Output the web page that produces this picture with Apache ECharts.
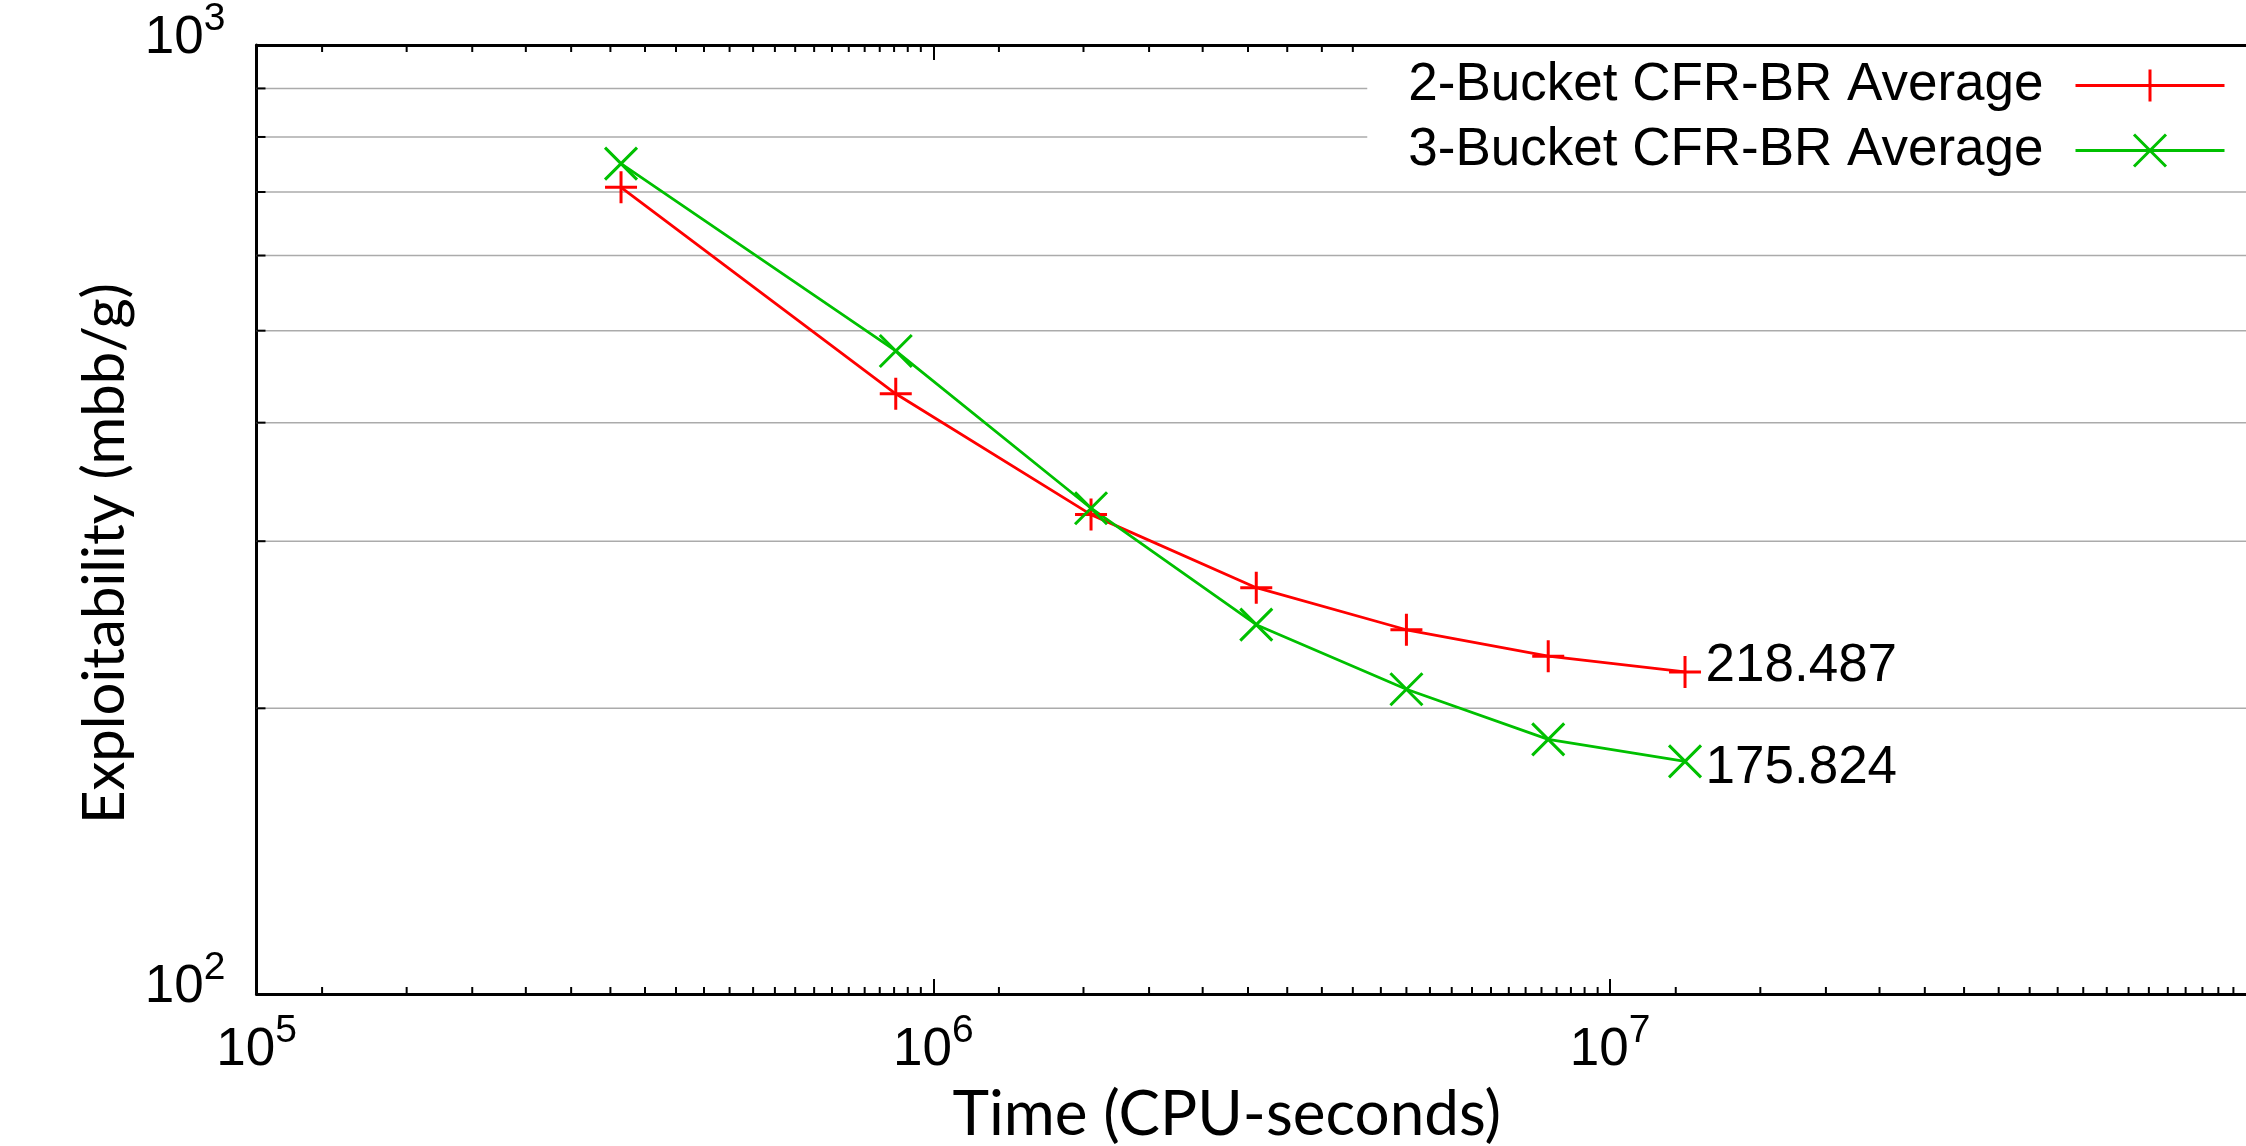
<!DOCTYPE html>
<html>
<head>
<meta charset="utf-8">
<script src="https://cdn.jsdelivr.net/npm/echarts@6/dist/echarts.min.js"></script>
<style>
  html, body { margin: 0; padding: 0; background: #fff; }
  #show { width: 2246px; height: 1146px; }
</style>
</head>
<body>
<div id="show"></div>
<script>
// data
var timeSeconds = [345600, 880000, 1710000, 3000000, 5000000, 8100000, 12900000];
var bucket2Avg = [708, 429, 320, 268, 242, 227, 218.487];
var bucket3Avg = [750, 476, 325, 245, 209.5, 185.5, 175.824];
var seriesNames = ['2-Bucket CFR-BR Average', '3-Bucket CFR-BR Average'];

// axis decoration
var yGridValues = [200, 300, 400, 500, 600, 700, 800, 900];
var xMinorDecades = [1e5, 1e6, 1e7];
var xMinorSteps = [3, 4, 5, 6, 7, 8, 9, 10, 11, 12, 13, 14, 15, 16, 17, 18, 19, 20, 21, 22, 23];

var plusPath = 'path://M5,0L5,10M0,5L10,5';
var crossPath = 'path://M0,0L10,10M10,0L0,10';

var myChart = echarts.init(document.getElementById('show'));

var xMinorTicks = [];
for (var d = 0; d < xMinorDecades.length; d++) {
    for (var k = 0; k < xMinorSteps.length; k++) {
        xMinorTicks.push([xMinorDecades[d] * 10 * xMinorSteps[k] / 24, 100]);
    }
}

function buildData(values, labelOffset) {
    var out = [];
    for (var i = 0; i < values.length; i++) {
        var item = { value: [timeSeconds[i], values[i]] };
        if (i === values.length - 1) {
            item.label = {
                show: true,
                position: 'right',
                distance: 3,
                offset: labelOffset,
                color: '#000',
                fontSize: 53,
                fontFamily: 'Liberation Sans',
                formatter: function (p) { return String(p.value[1]); }
            };
        }
        out.push(item);
    }
    return out;
}

function powLabel(v) {
    var e = Math.round(Math.log10(v));
    return '{b|10}{s|' + e + '}';
}

// base digits sit at the bottom of a tall line, exponent at the top
var labelRich = {
    b: { fontSize: 53, lineHeight: 65, fontFamily: 'Liberation Sans', color: '#000', verticalAlign: 'bottom' },
    s: { fontSize: 39, lineHeight: 39, fontFamily: 'Liberation Sans', color: '#000', verticalAlign: 'top' }
};

var axisLineStyle = { show: true, lineStyle: { color: '#000', width: 3 } };

var option = {
    animation: false,
    backgroundColor: '#fff',
    // plot runs on past the right edge of the picture (10^8 is off-canvas)
    grid: { left: 256.5, top: 45, width: 2030.5, bottom: 152, outerBoundsMode: 'none', containLabel: false },
    legend: {
        data: [
            { name: seriesNames[0], itemStyle: { borderColor: '#ff0000', borderWidth: 3 }, lineStyle: { color: '#ff0000', width: 3 } },
            { name: seriesNames[1], itemStyle: { borderColor: '#00c000', borderWidth: 3 }, lineStyle: { color: '#00c000', width: 3 } }
        ],
        orient: 'vertical',
        align: 'right',
        right: 0,
        top: 47,
        itemWidth: 149,
        itemHeight: 40,
        itemGap: 12,
        padding: [12, 20, 12, 41],
        backgroundColor: '#fff',
        selectedMode: false,
        textStyle: { fontSize: 53, fontFamily: 'Liberation Sans', color: '#000', lineHeight: 50, padding: [0, 27, 0, 0] }
    },
    xAxis: [{
        type: 'log',
        logBase: 10,
        min: 1e5,
        max: 1e8,
        position: 'bottom',
        name: 'Time (CPU-seconds)',
        nameLocation: 'middle',
        nameGap: 90,
        nameTextStyle: { fontSize: 62, fontFamily: 'Lato', color: '#000', padding: [0, 90, 0, 0] },
        axisLine: axisLineStyle,
        axisTick: { show: true, inside: true, length: 15, lineStyle: { color: '#000', width: 2 } },
        axisLabel: { margin: 18, formatter: powLabel, rich: labelRich },
        splitLine: { show: false },
        minorTick: { show: false }
    }, {
        type: 'log',
        logBase: 10,
        min: 1e5,
        max: 1e8,
        position: 'top',
        axisLine: axisLineStyle,
        axisTick: { show: true, inside: true, length: 15, lineStyle: { color: '#000', width: 2 } },
        axisLabel: { show: false },
        splitLine: { show: false }
    }],
    yAxis: {
        type: 'log',
        logBase: 10,
        min: 100,
        max: 1000,
        name: 'Exploitability (mbb/g)',
        nameLocation: 'middle',
        nameGap: 106,
        nameTextStyle: { fontSize: 58, fontFamily: 'Lato', color: '#000', padding: [0, 68, 0, 0] },
        axisLine: axisLineStyle,
        axisTick: { show: false },
        axisLabel: { margin: 31, formatter: powLabel, rich: labelRich, padding: [0, 0, 26, 0] },
        splitLine: { show: false }
    },
    series: [{
        type: 'custom',
        name: 'ygrid',
        z: 1,
        silent: true,
        data: yGridValues.map(function (v) { return [1e5, v]; }),
        encode: { x: 0, y: 1 },
        renderItem: function (params, api) {
            var cs = params.coordSys;
            var y = api.coord([api.value(0), api.value(1)])[1];
            return {
                type: 'group',
                children: [
                    { type: 'line', shape: { x1: cs.x, y1: y, x2: cs.x + cs.width, y2: y }, style: { stroke: '#ababab', lineWidth: 1.5 } },
                    { type: 'line', shape: { x1: cs.x, y1: y, x2: cs.x + 9, y2: y }, style: { stroke: '#000', lineWidth: 2 } }
                ]
            };
        }
    }, {
        type: 'custom',
        name: 'xminor',
        z: 1,
        silent: true,
        data: xMinorTicks,
        encode: { x: 0, y: 1 },
        renderItem: function (params, api) {
            var cs = params.coordSys;
            var x = api.coord([api.value(0), api.value(1)])[0];
            var yb = cs.y + cs.height;
            var yt = cs.y;
            return {
                type: 'group',
                children: [
                    { type: 'line', shape: { x1: x, y1: yb, x2: x, y2: yb - 7 }, style: { stroke: '#000', lineWidth: 2 } },
                    { type: 'line', shape: { x1: x, y1: yt, x2: x, y2: yt + 7 }, style: { stroke: '#000', lineWidth: 2 } }
                ]
            };
        }
    }, {
        name: seriesNames[0],
        type: 'line',
        z: 3,
        data: buildData(bucket2Avg, [0, -5]),
        symbol: plusPath,
        symbolSize: 32,
        showAllSymbol: true,
        lineStyle: { color: '#ff0000', width: 2.8 },
        itemStyle: { color: '#ff0000', borderColor: '#ff0000', borderWidth: 3 }
    }, {
        name: seriesNames[1],
        type: 'line',
        z: 3,
        data: buildData(bucket3Avg, [0, 7]),
        symbol: crossPath,
        symbolSize: 32,
        showAllSymbol: true,
        lineStyle: { color: '#00c000', width: 2.8 },
        itemStyle: { color: '#00c000', borderColor: '#00c000', borderWidth: 3 }
    }]
};

myChart.setOption(option);
</script>
</body>
</html>
